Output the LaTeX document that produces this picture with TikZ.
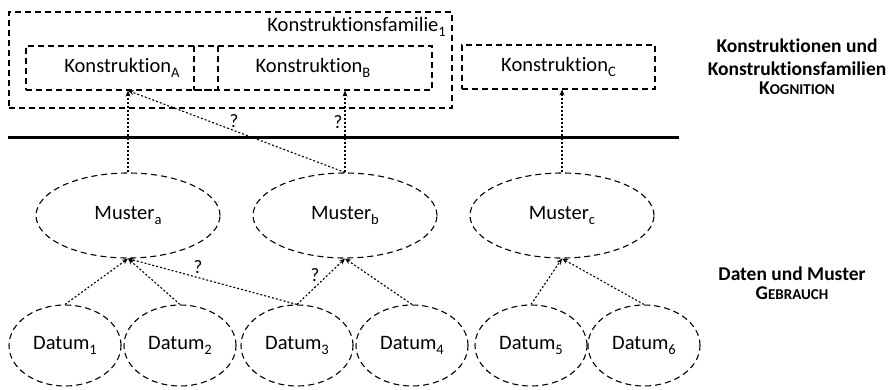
\documentclass[tikz,border=0pt]{standalone}
\usepackage{fontspec}
\setmainfont[Ligatures=NoCommon]{Carlito}
\usetikzlibrary{shapes.geometric,arrows.meta}
% small capitals built from two sizes of capitals
\newcommand{\fakesc}[2]{#1{\fontsize{15}{17}\selectfont #2}}
% lowered index in the text font
\newcommand{\idx}[1]{\raisebox{-0.28em}{\fontsize{14.5}{15}\selectfont #1}}
\begin{document}
\begin{tikzpicture}[x=1pt,y=-1pt,
  font=\fontsize{20.5}{24}\selectfont,
  dashbox/.style={draw, dash pattern=on 6pt off 4pt, line width=1.1pt, inner sep=0pt},
  konbox/.style={dashbox, rectangle, minimum height=44pt},
  musterell/.style={dashbox, ellipse, minimum width=184pt, minimum height=85pt},
  datumell/.style={dashbox, ellipse, minimum width=112pt, minimum height=81pt},
  link/.style={dash pattern=on 2pt off 2pt, line width=1.1pt, -{Stealth[length=6pt,width=5pt]}},
  qmark/.style={font=\fontsize{19}{20}\selectfont, inner sep=0pt},
  sidelabel/.style={align=center, inner sep=0pt, font=\fontsize{19.5}{22.5}\selectfont\bfseries}]
\useasboundingbox (0,0) rectangle (888,389);

% cognition level: constructions and the construction family
\node[konbox, minimum width=443pt, minimum height=96pt] (fam) at (230.5,60) {};
\node[anchor=east, inner sep=0pt] (famlabel) at (446,27) {Konstruktionsfamilie\idx{1}};
\node[konbox, minimum width=192pt] (ka) at (122,68) {Konstruktion\idx{A}};
\node[konbox, minimum width=238pt] (kb) at (313,68) {Konstruktion\idx{B}};
\node[konbox, minimum width=193pt] (kc) at (558.5,67) {Konstruktion\idx{C}};

% dividing line between the levels
\coordinate (divl) at (8,137);
\coordinate (divr) at (679,137);
\draw[line width=3pt] (divl) -- (divr);

% usage level: patterns and data
\node[musterell] (ma) at (128,215.5) {Muster\idx{a}};
\node[musterell] (mb) at (345,215.5) {Muster\idx{b}};
\node[musterell] (mc) at (562,215.5) {Muster\idx{c}};

\node[datumell] (d1) at (65,345.5) {Datum\idx{1}};
\node[datumell] (d2) at (180,345.5) {Datum\idx{2}};
\node[datumell] (d3) at (297,345.5) {Datum\idx{3}};
\node[datumell] (d4) at (412,345.5) {Datum\idx{4}};
\node[datumell] (d5) at (531,345.5) {Datum\idx{5}};
\node[datumell] (d6) at (644,345.5) {Datum\idx{6}};

% pattern -> construction links
\draw[link] (ma.north) -- (ma.north |- ka.south);
\draw[link] (mb.north) -- (mb.north |- kb.south);
\draw[link] (mb.north) -- (ma.north |- ka.south);
\draw[link] (mc.north) -- (mc.north |- kc.south);
\node[qmark] (q1) at (234,121) {?};
\node[qmark] (q2) at (338,122) {?};

% datum -> pattern links
\draw[link] (d1.north) -- (ma.south);
\draw[link] (d2.north) -- (ma.south);
\draw[link] (d3.north) -- (ma.south);
\draw[link] (d3.north) -- (mb.south);
\draw[link] (d4.north) -- (mb.south);
\draw[link] (d5.north) -- (mc.south);
\draw[link] (d6.north) -- (mc.south);
\node[qmark] (q3) at (198,267) {?};
\node[qmark] (q4) at (315,275) {?};

% level labels
\node[sidelabel] (cogn) at (797,67) {Konstruktionen und\\Konstruktionsfamilien\\[-3pt]\fakesc{K}{OGNITION}};
\node[sidelabel] (usage) at (792,283) {Daten und Muster\\[-3pt]\fakesc{G}{EBRAUCH}};
\end{tikzpicture}
\end{document}
